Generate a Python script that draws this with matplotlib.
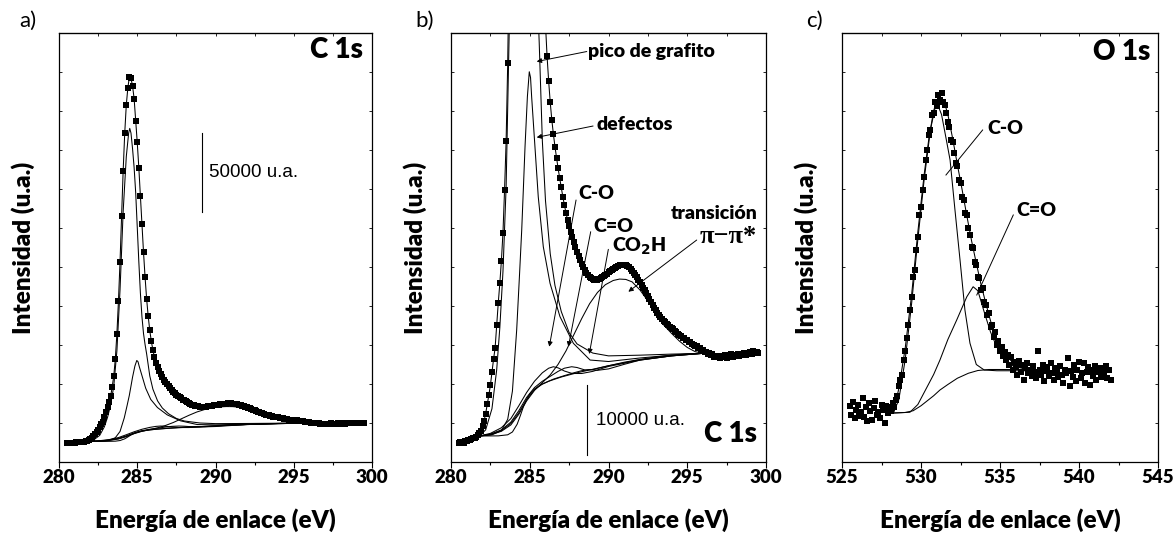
import numpy as np
import matplotlib.pyplot as plt
from matplotlib.ticker import MultipleLocator

plt.rcParams['font.family'] = ['Lato', 'DejaVu Sans']

# ---- C 1s spectrum (shared by panels a and b), counts ----
e_c1s = np.round(np.arange(280.5, 299.55, 0.1), 1)
i_c1s = [12140, 12250, 12300, 12200, 12400, 12350, 12500, 12560, 12650, 12800,
         12900, 13050, 13270, 13500, 13900,
         14500, 15300, 16300, 17600, 18900, 20300, 22200, 24000, 25600, 28900,
         32000, 34800, 38000, 42000, 48000, 55000, 66000, 82000, 103000, 128000,
         157000, 186000, 210000, 228000, 239000, 246000, 245000, 240000, 232000, 218000,
         204000, 188000, 170000, 152000, 134000, 118000, 104000, 93000, 84000, 77000,
         71500, 67000, 63500, 60500, 58000, 56000, 54200, 52600, 51100, 49700,
         48400, 47100, 45900, 44800, 43800, 42900, 42100, 41300, 40600, 39900,
         39300, 38700, 38100, 37600, 37100, 36700, 36300, 36000, 35750, 35550,
         35400, 35300, 35250, 35300, 35400, 35550, 35700, 35850, 36000, 36150,
         36350, 36500, 36700, 36850, 37000, 37150, 37250, 37350, 37450, 37450,
         37400, 37350, 37200, 37050, 36850, 36600, 36300, 36000, 35650, 35300,
         35000, 34600, 34200, 33800, 33400, 33000, 32600, 32100, 31700, 31300,
         31000, 30600, 30300, 30000, 29800, 29500, 29300, 29000, 28900, 28600,
         28500, 28300, 28000, 27900, 27600, 27500, 27300, 27100, 27000, 26800,
         26800, 26500, 26500, 26200, 26100, 25900, 25900, 25600, 25600, 25300,
         25300, 25000, 25000, 24800, 24900, 24600, 24700, 24400, 24500, 24300,
         24500, 24200, 24400, 24300, 24600, 24200, 24500, 24400, 24700, 24400,
         24600, 24500, 24800, 24500, 24700, 24600, 24900, 24600, 24800, 24700,
         25000, 24800, 25200, 24900, 25100, 24900]
i_c1s = np.array(i_c1s)

# fitted components (component + background)
bg_x = [281.8, 283.0, 283.6, 283.9, 284.2, 284.4, 284.6, 284.8, 285.0, 285.3, 285.7,
        286.2, 287.0, 288.0, 289.0, 290.0, 291.0, 292.0, 293.0, 294.0, 295.0, 296.0]
bg_y = [13130, 13150, 13300, 13700, 14800, 16000, 17300, 18300, 19100, 19800, 20400,
        20900, 21500, 22100, 22600, 23100, 23600, 24000, 24350, 24600, 24780, 24860]

gr_x = [281.8, 282.2, 282.6, 282.9, 283.1, 283.3, 283.5, 283.7, 283.9, 284.1, 284.3,
        284.45, 284.52, 284.6, 284.7, 284.8, 284.9, 285.0, 285.1, 285.2, 285.3, 285.4,
        285.5, 285.6, 285.7, 285.8, 286.0, 286.3, 286.6, 287.0, 287.5, 288.0, 289.0,
        290.0, 292.0, 294.0, 296.0]
gr_y = [13130, 14000, 17000, 22500, 28500, 36500, 48500, 71000, 110000, 160000, 195000,
        210000, 213000, 210000, 200000, 188000, 172000, 150000, 128000, 108000, 92800, 82000,
        75000, 69000, 62000, 55000, 46500, 39000, 34500, 30800, 27800, 26200, 24900,
        24500, 24600, 24750, 24860]

df_x = [281.8, 282.6, 283.2, 283.6, 283.9, 284.17, 284.35, 284.49, 284.6, 284.7, 284.85,
        284.97, 285.05, 285.12, 285.33, 285.54, 285.86, 286.29, 286.92, 287.77, 288.83,
        290.0, 292.0, 294.0, 296.0]
df_y = [13130, 13300, 13900, 15500, 19500, 28170, 36000, 42360, 48500, 54180, 61280,
        64820, 64000, 61280, 54180, 47080, 39990, 34780, 30060, 26280, 23910,
        23700, 24200, 24600, 24860]

co_x = [281.8, 282.5, 283.2, 283.8, 284.3, 284.8, 285.3, 285.8, 286.2, 286.5, 286.8,
        287.2, 287.7, 288.3, 289.0, 290.0, 292.0, 294.0, 296.0]
co_y = [13130, 13500, 14300, 15600, 17400, 19300, 20900, 22100, 22750, 22960, 22800,
        22350, 22000, 22000, 22300, 23000, 23900, 24500, 24860]

cdo_x = [281.8, 282.5, 283.2, 283.8, 284.3, 284.8, 285.3, 285.8, 286.3, 286.8, 287.2,
         287.66, 288.0, 288.5, 289.0, 290.0, 292.0, 294.0, 296.0]
cdo_y = [13130, 13400, 14000, 15100, 16700, 18600, 20000, 20900, 21600, 22300, 22750,
         22960, 22850, 22500, 22550, 23100, 23950, 24500, 24860]

cooh_x = [281.8, 282.5, 283.2, 283.8, 284.3, 284.8, 285.3, 285.8, 286.5, 287.2, 287.8,
          288.3, 288.8, 289.3, 290.0, 291.0, 292.0, 294.0, 296.0]
cooh_y = [13130, 13350, 13900, 14900, 16400, 18300, 19700, 20500, 21200, 21700, 22100,
          22400, 22550, 22450, 22650, 23300, 23900, 24500, 24860]

pi_x = [281.8, 282.5, 283.2, 283.8, 284.3, 284.8, 285.3, 285.8, 286.3, 286.8, 287.3,
        287.8, 288.3, 288.8, 289.3, 289.8, 290.3, 290.7, 291.1, 291.5, 292.0, 292.5,
        293.0, 293.5, 294.0, 294.5, 295.0, 295.5, 296.0]
pi_y = [13130, 13300, 13800, 14700, 16200, 18100, 19600, 20700, 21800, 23300, 25200,
        27500, 29800, 31900, 33500, 34600, 35200, 35400, 35350, 35000, 33850, 32300,
        30800, 28900, 27700, 26600, 25700, 25100, 24860]

# ---- O 1s spectrum (panel c), counts ----
e_o1s = np.round(np.arange(525.5, 542.05, 0.1), 1)
i_o1s = [2250, 1900, 2400, 1750, 2100, 2300, 1850, 2000, 2550, 1800,
         2200, 1650, 2350, 2050, 1700, 2150, 2450, 1900, 2000, 1750,
         2300, 2100, 1550, 2250, 1950, 2200, 2050, 2350, 2200, 2500,
         2650, 3050, 3300, 3500, 4100, 4450, 4950, 5500, 6100, 6600,
         7400, 7700, 8500, 9000, 9900, 10200, 10900, 11400, 12100, 12500,
         13100, 13300, 13900, 13950, 14400, 14250, 14700, 14500, 14750, 14400,
         14300, 13950, 13600, 13400, 12900, 12800, 12350, 11950, 11850, 11300,
         11150, 10600, 10500, 9950, 9900, 9350, 9100, 8600, 8550, 8000,
         7900, 7400, 7350, 6900, 6950, 6400, 6300, 5900, 5950, 5400,
         5500, 5000, 5200, 4700, 4850, 4450, 4600, 4250, 4400, 4100,
         4300, 3900, 4200, 3700, 4000, 3850, 3500, 4050, 3600, 3900,
         3300, 3750, 3950, 3550, 3700, 3450, 3850, 3600, 3350, 4450,
         3700, 3500, 3900, 3250, 3650, 3800, 3450, 3950, 3550, 3300,
         3750, 3600, 3400, 3850, 3500, 3150, 3700, 3550, 4150, 3050,
         3650, 3400, 3900, 3250, 3700, 4000, 3350, 3550, 3950, 3150,
         3600, 3800, 3100, 3700, 3450, 3850, 3300, 3600, 3750, 3400,
         3650, 3500, 3850, 3350, 3700, 3300]
i_o1s = np.array(i_o1s)

env_o_x = [528.25, 528.6, 529.0, 529.4, 529.8, 530.2, 530.5, 530.8, 531.0, 531.2, 531.45,
           531.7, 532.0, 532.3, 532.6, 532.9, 533.2, 533.5, 533.8, 534.1, 534.4, 534.8,
           535.2, 535.7, 536.2, 536.8]
env_o_y = [1960, 2950, 4550, 6650, 9200, 11500, 12950, 14050, 14450, 14600, 14450,
           13900, 12950, 11900, 10900, 9850, 8850, 7950, 7100, 6350, 5650, 4800,
           4400, 4050, 3850, 3750]

bg_o_x = [528.25, 529.0, 529.5, 530.0, 530.4, 530.8, 531.2, 531.7, 532.3, 533.0, 533.6,
          534.3, 535.0, 535.8, 536.8]
bg_o_y = [1960, 1980, 2050, 2250, 2450, 2650, 2880, 3100, 3350, 3550, 3660,
          3700, 3700, 3700, 3700]

co_o_x = [528.25, 528.6, 529.0, 529.4, 529.8, 530.2, 530.6, 530.9, 531.05, 531.3, 531.6,
          531.84, 532.15, 532.47, 532.78, 533.1, 533.5, 534.0, 534.8, 535.8, 536.8]
co_o_y = [1960, 2500, 4100, 6300, 8900, 11300, 13300, 14200, 14300, 13900, 12900,
          12080, 10080, 8080, 6080, 4750, 3900, 3680, 3650, 3650, 3650]

cdo_o_x = [528.25, 529.3, 529.8, 530.3, 530.8, 531.2, 531.7, 532.26, 532.9, 533.3, 533.6,
           534.0, 534.4, 534.79, 535.2, 535.8, 536.8]
cdo_o_y = [1960, 1990, 2300, 2900, 3500, 4080, 4900, 5680, 6610, 7010, 6850,
           6000, 5200, 4610, 4200, 3850, 3680]

ticks_c1s = [280, 285, 290, 295, 300]
ticks_o1s = [525, 530, 535, 540, 545]

W, H = 1176, 539
fig = plt.figure(figsize=(W / 100, H / 100), dpi=100)


def box(l, r, t=33, b=462):
    return [l / W, 1 - b / H, (r - l) / W, (b - t) / H]


ax_a = fig.add_axes(box(59, 372))
ax_b = fig.add_axes(box(451, 766))
ax_c = fig.add_axes(box(842, 1158))

LW = 0.75
MS = 4.0


def style(ax, ticks, ylim):
    ax.set_xlim(ticks[0], ticks[-1])
    ax.set_ylim(*ylim)
    ax.set_xticks(ticks)
    ax.xaxis.set_minor_locator(MultipleLocator(2.5))
    ax.set_yticks(np.linspace(ylim[0], ylim[1], 12)[1:-1])
    ax.tick_params(axis='x', which='major', direction='out', length=4, width=0.8,
                   labelbottom=False)
    ax.tick_params(axis='x', which='minor', direction='out', length=2.5, width=0.8)
    ax.tick_params(axis='y', which='both', direction='in', length=2.5, width=0.6,
                   left=True, right=True, labelleft=False)
    # heavy tick numbers under the major ticks
    for t in ticks:
        ax.text(t, -0.037, str(t), transform=ax.get_xaxis_transform(),
                fontsize=13.5, fontweight='heavy', ha='center', va='center')
    top = ax.secondary_xaxis('top')
    top.set_xticks(ticks)
    top.xaxis.set_minor_locator(MultipleLocator(2.5))
    top.tick_params(axis='x', which='both', direction='in', length=2.5, width=0.6,
                    labeltop=False)
    for s in ax.spines.values():
        s.set_linewidth(0.9)
    ax.set_xlabel('Energía de enlace (eV)', fontsize=17.5, fontweight='heavy')
    ax.set_ylabel('Intensidad (u.a.)', fontsize=17.5, fontweight='heavy')
    ax.xaxis.set_label_coords(0.5, -0.108)
    ax.yaxis.set_label_coords(-0.077, 0.5)


def draw_c1s(ax):
    fit = (e_c1s >= 281.8) & (e_c1s <= 296.0)
    for x, y in [(bg_x, bg_y), (co_x, co_y), (cdo_x, cdo_y), (cooh_x, cooh_y),
                 (pi_x, pi_y), (df_x, df_y), (gr_x, gr_y)]:
        ax.plot(x, y, color='k', lw=LW)
    ax.plot(e_c1s, i_c1s, 's', color='k', ms=MS, mew=0)
    ax.plot(e_c1s[fit], i_c1s[fit], color='k', lw=LW)


# a) full C 1s
draw_c1s(ax_a)
style(ax_a, ticks_c1s, (0, 273900))
ax_a.plot([289.16, 289.16], [159800, 209800], color='k', lw=0.8)
ax_a.text(289.58, 184800, '50000 u.a.', family='Liberation Sans',
          fontsize=13.5, va='center', ha='left')
ax_a.text(299.4, 263000, 'C 1s', fontsize=20, fontweight='heavy', ha='right', va='center')

# b) zoom on the low-intensity region
draw_c1s(ax_b)
style(ax_b, ticks_c1s, (9440, 70320))
ax_b.plot([288.62, 288.62], [10400, 20400], color='k', lw=0.8)
ax_b.text(289.2, 15400, '10000 u.a.', family='Liberation Sans',
          fontsize=13.5, va='center', ha='left')
ax_b.text(299.4, 13400, 'C 1s', fontsize=20, fontweight='heavy', ha='right', va='center')

arrow = dict(arrowstyle='-|>', color='k', lw=0.7, mutation_scale=7,
             shrinkA=0, shrinkB=0)
labels_b = [
    ('pico de grafito', (288.70, 67690), (288.62, 67690), (285.44, 66270)),
    ('defectos', (289.25, 57400), (289.02, 57120), (285.44, 55510)),
    ('C-O', (288.06, 47570), (287.94, 46620), (286.24, 25800)),
    ('C=O', (289.02, 42930), (288.87, 42120), (287.45, 25800)),
    ('CO$_\\mathbf{2}$H', (290.2, 39990), (289.99, 39620), (288.78, 24770)),
]
for txt, pos, start, tip in labels_b:
    ax_b.text(pos[0], pos[1], txt, fontsize=14, fontweight='heavy', ha='left', va='center')
    ax_b.annotate('', xy=tip, xytext=start, arrowprops=arrow)
ax_b.text(299.43, 44770, 'transición', fontsize=14, fontweight='heavy',
          ha='right', va='center')
ax_b.text(299.43, 41410, 'π−π*', family='Liberation Serif', fontsize=19,
          fontweight='bold', ha='right', va='center')
ax_b.annotate('', xy=(291.26, 33600), xytext=(295.6, 40940), arrowprops=arrow)

# c) O 1s
ax_c.plot(bg_o_x, bg_o_y, color='k', lw=LW)
ax_c.plot(co_o_x, co_o_y, color='k', lw=LW)
ax_c.plot(cdo_o_x, cdo_o_y, color='k', lw=LW)
ax_c.plot(e_o1s, i_o1s, 's', color='k', ms=MS, mew=0)
ax_c.plot(env_o_x, env_o_y, color='k', lw=LW)
style(ax_c, ticks_o1s, (0, 17160))
ax_c.text(544.5, 16400, 'O 1s', fontsize=20, fontweight='heavy', ha='right', va='center')
ax_c.text(534.18, 13360, 'C-O', fontsize=14, fontweight='heavy', ha='left', va='center')
ax_c.plot([533.9, 531.58], [13280, 11480], color='k', lw=0.7)
ax_c.text(536.06, 10080, 'C=O', fontsize=14, fontweight='heavy', ha='left', va='center')
ax_c.plot([535.84, 533.53], [9880, 6680], color='k', lw=0.7)

for lab, x in [('a)', 28), ('b)', 425), ('c)', 814)]:
    fig.text(x / W, 1 - 21 / H, lab, fontsize=16, ha='center', va='center')

fig.savefig('out.png', dpi=100)
